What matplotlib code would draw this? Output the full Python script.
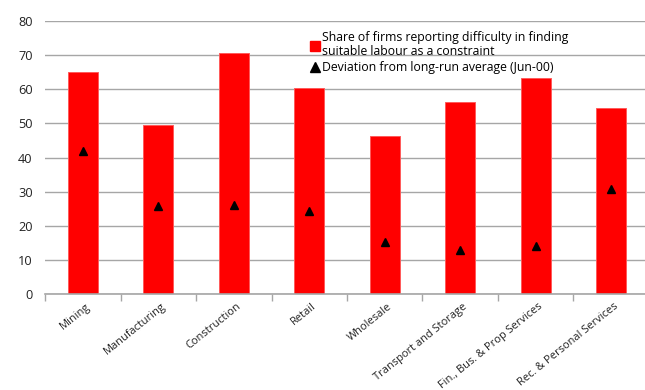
import numpy as np
import matplotlib
matplotlib.use("Agg")
import matplotlib.pyplot as plt
from matplotlib.lines import Line2D

plt.rcParams['font.family'] = ['Open Sans', 'DejaVu Sans']

# industry data
industries = ['Mining', 'Manufacturing', 'Construction', 'Retail', 'Wholesale',
              'Transport and Storage', 'Fin., Bus. & Prop Services',
              'Rec. & Personal Services']
share_difficulty = [65.2, 49.5, 70.6, 60.5, 46.2, 56.4, 63.2, 54.6]
deviation_avg = [41.8, 25.7, 26.2, 24.2, 15.2, 12.9, 14.0, 30.7]

fig = plt.figure(figsize=(6.45, 3.9), dpi=100)
ax = fig.add_axes([0.07, 0.246, 0.936, 0.7])

x = np.arange(len(industries))
ax.bar(x, share_difficulty, width=0.4, color='#ff0000', edgecolor='#ff5a5a',
       linewidth=0.7, zorder=2)
ax.plot(x, deviation_avg, linestyle='none', marker='^', color='black',
        markersize=6, zorder=3)

ax.set_ylim(0, 80)
ax.set_xlim(-0.5, len(industries) - 0.5)
ax.set_yticks(range(0, 81, 10))
ax.yaxis.grid(True, color='#a6a6a6', linewidth=1.0, zorder=0)
ax.set_axisbelow(True)

for s in ['top', 'right', 'left']:
    ax.spines[s].set_visible(False)
ax.spines['bottom'].set_color('#a6a6a6')
ax.spines['bottom'].set_linewidth(1.2)

# category labels centred, ticks on the boundaries
ax.set_xticks(x + 0.03)
ax.set_xticklabels(industries, rotation=39, ha='right', rotation_mode='anchor',
                   fontsize=7.9, color='#222222')
ax.tick_params(axis='x', length=0, pad=5)
ax.set_xticks(np.arange(-0.5, len(industries), 1), minor=True)
ax.tick_params(axis='x', which='minor', length=5, color='#a6a6a6', width=1)
ax.tick_params(axis='y', length=0, labelsize=9.2, labelcolor='#222222', pad=9)

handles = [
    Line2D([], [], linestyle='none', marker='s', color='#ff0000', markersize=6.5),
    Line2D([], [], linestyle='none', marker='^', color='black', markersize=7),
]
labels = ['Share of firms reporting difficulty in finding\nsuitable labour as a constraint',
          'Deviation from long-run average (Jun-00)']
leg = fig.legend(handles, labels, loc='upper left', bbox_to_anchor=(0.472, 0.932),
                 frameon=False, fontsize=8.8, handletextpad=0.05, handlelength=1.0,
                 labelspacing=0.2, borderaxespad=0)
for t in leg.get_texts():
    t.set_linespacing(1.1)

fig.savefig('out.png', dpi=100)
